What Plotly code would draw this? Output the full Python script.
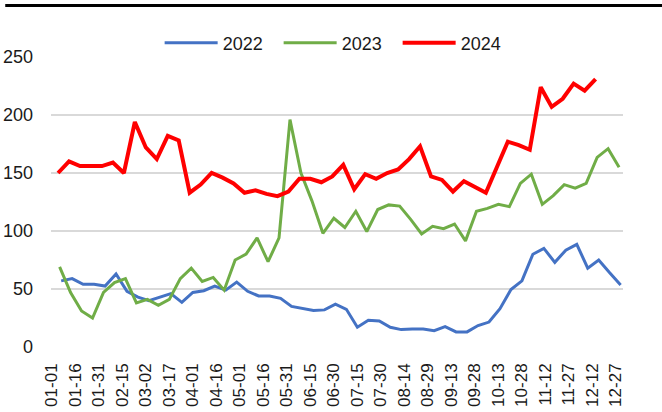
import pandas as pd
import plotly.graph_objects as go

# Weekly readings, one list per year (first reading of each year listed below)
start_2022 = "2023-01-07"
start_2023 = "2023-01-06"
start_2024 = "2023-01-05"

v2022 = [57, 59, 54, 54, 52.5, 63, 48, 43, 40, 43, 46, 38.5, 47, 48.5, 52.5, 49,
         56, 48, 44, 44, 42, 35, 33, 31.5, 32, 37, 32.5, 17, 23, 22.5, 17, 15,
         15.5, 15.5, 14, 17.5, 13, 13, 18.5, 21.5, 33, 49.5, 57, 80, 85, 73,
         83.5, 88.5, 68, 75, 64, 53.5]
v2023 = [69, 47, 31, 25, 47, 55.5, 59, 38, 41, 36, 41, 59, 68, 56.5, 60, 49,
         75, 80, 94, 73.5, 94, 196, 150, 126, 98, 111, 103, 117, 99.5, 118.5,
         122.5, 121.5, 110, 97.5, 104, 102, 106, 91.5, 117, 119.5, 123, 121,
         141, 149, 123, 130.5, 140, 137, 141, 163.5, 171, 155]
v2024 = [150, 160, 156, 156, 156, 159, 150, 194, 172, 162, 182, 178, 133, 140,
         150, 146, 141, 133, 135, 132, 130, 134, 145, 145, 142, 147, 157, 136,
         149, 145, 150, 153, 162, 173, 147, 144, 134, 143, 138, 133, 155, 177,
         174, 170, 224, 207, 214, 227, 221, 231]

y_ticks = [0, 50, 100, 150, 200, 250]

series = [
    ("2022", start_2022, v2022, "#4472C4", 3),
    ("2023", start_2023, v2023, "#70AD47", 3),
    ("2024", start_2024, v2024, "#FF0000", 4),
]

fig = go.Figure()
for name, start, vals, color, width in series:
    dates = pd.date_range(start=start, periods=len(vals), freq="7D")
    fig.add_trace(go.Scatter(
        x=dates, y=vals, name=name, mode="lines",
        line=dict(color=color, width=width),
    ))

font_family = "Liberation Sans, Arial, sans-serif"

fig.update_layout(
    width=662, height=412,
    margin=dict(l=51, r=39, t=57, b=65, autoexpand=False),
    paper_bgcolor="white", plot_bgcolor="white",
    font=dict(family=font_family, size=18, color="#1a1a1a"),
    showlegend=True,
    legend=dict(
        orientation="h", x=0.502, xanchor="center", y=1.048, yanchor="middle",
        font=dict(size=18), bgcolor="rgba(0,0,0,0)",
        itemwidth=53, entrywidth=51, entrywidthmode="pixels",
    ),
    xaxis=dict(
        type="date", automargin=False,
        range=["2022-12-31 12:00", "2023-12-31 12:00"],
        tick0="2023-01-01", dtick=15 * 86400000, tickformat="%m-%d",
        tickangle=-90, tickfont=dict(size=17),
        showgrid=False, zeroline=False, showline=False, ticks="",
        ticklabelstandoff=12,
    ),
    yaxis=dict(
        range=[0, 250], tickvals=y_ticks, automargin=False,
        showgrid=True, gridcolor="#d9d9d9", gridwidth=1.5,
        zeroline=False, showline=False, ticks="",
        tickfont=dict(size=18), ticklabelstandoff=17,
    ),
)

# Heavy rule across the top of the page
fig.add_shape(
    type="line", xref="paper", yref="paper",
    x0=-0.08, x1=1.07, y0=1.178, y1=1.178,
    line=dict(color="black", width=3),
)

fig.write_html("out.html")
